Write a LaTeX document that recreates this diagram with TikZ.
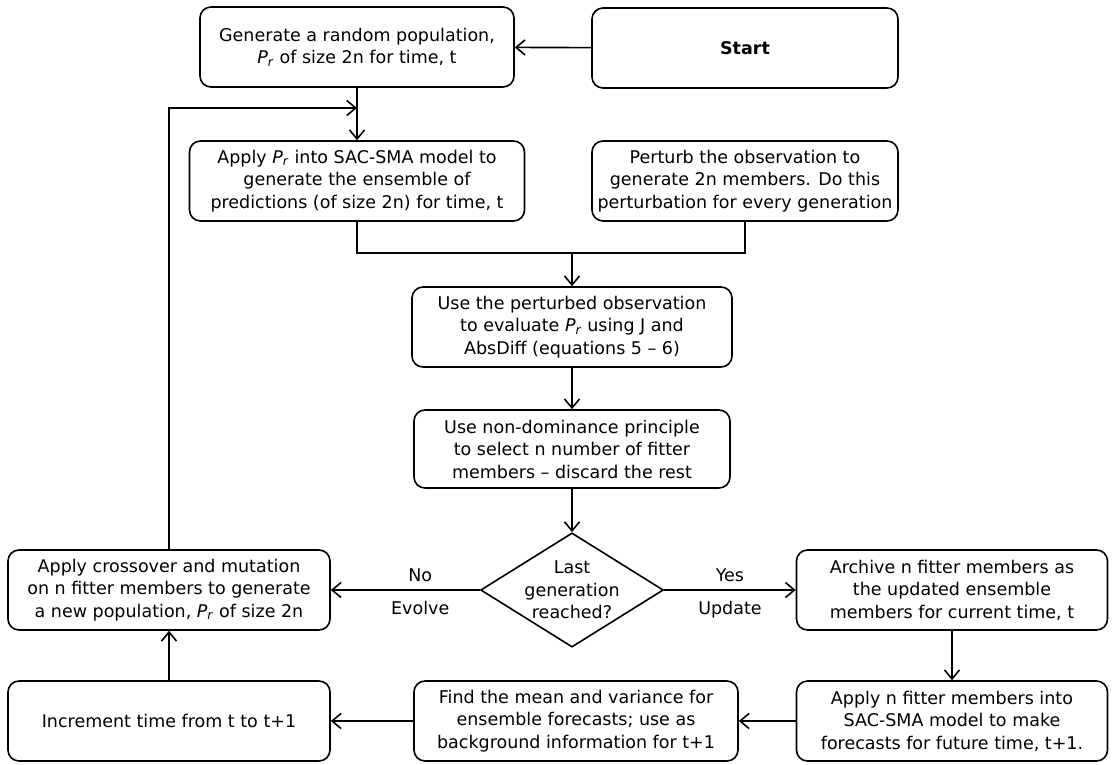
\documentclass[tikz,border=0pt]{standalone}
\usepackage{fontspec}
\setmainfont{DejaVu Sans}
\usetikzlibrary{arrows.meta,shapes.geometric}

\newcommand{\popr}{\textit{P}\textsubscript{\textit{r}}}

\begin{document}
\begin{tikzpicture}[x=1pt,y=-1pt,
    font=\fontsize{17.5}{22.5}\selectfont,
    procbox/.style={draw, rounded corners=11pt, line width=1.6pt, align=center,
      inner sep=0pt, minimum height=80pt},
    decbox/.style={draw, diamond, aspect=1.6, line width=1.6pt, align=center,
      inner sep=-1pt},
    conn/.style={line width=1.6pt},
    flow/.style={conn, -{Straight Barb[length=9pt,width=15pt,line width=1.6pt]}}]
  \useasboundingbox (0,0) rectangle (1113,764);

  % top part
  \node [procbox, minimum width=306pt, font=\fontsize{17.5}{22.5}\selectfont\bfseries]
    (start) at (745,48) {Start};
  \node [procbox, minimum width=314pt] (gen) at (357,47)
    {Generate a random population,\\ \popr{} of size 2n for time, t};
  \node [procbox, minimum width=335pt] (apply) at (357,181)
    {Apply \popr{} into SAC-SMA model to\\ generate the ensemble of\\ predictions (of size 2n) for time, t};
  \node [procbox, minimum width=306pt] (perturb) at (745,181)
    {Perturb the observation to\\ generate 2n members. Do this\\ perturbation for every generation};
  \node [procbox, minimum width=320pt] (eval) at (572,327)
    {Use the perturbed observation\\ to evaluate \popr{} using J and\\ AbsDiff (equations 5 -- 6)};
  \node [procbox, minimum width=316pt, minimum height=78pt] (select) at (572,449)
    {Use non-dominance principle\\ to select n number of fitter\\ members -- discard the rest};

  % decision
  \node [decbox] (dec) at (572,590) {Last\\ generation\\ reached?};
  \node [procbox, minimum width=322pt] (cross) at (169,590)
    {Apply crossover and mutation\\ on n fitter members to generate\\ a new population, \popr{} of size 2n};
  \node [procbox, minimum width=311pt] (archive) at (952,590)
    {Archive n fitter members as\\ the updated ensemble\\ members for current time, t};

  % bottom row
  \node [procbox, minimum width=311pt] (forecast) at (952,721)
    {Apply n fitter members into\\ SAC-SMA model to make\\ forecasts for future time, t+1.};
  \node [procbox, minimum width=324pt] (mean) at (576,721)
    {Find the mean and variance for\\ ensemble forecasts; use as\\ background information for t+1};
  \node [procbox, minimum width=322pt] (incr) at (169,721)
    {Increment time from t to t+1};

  \coordinate (loop) at (357,108);
  \coordinate (merge) at (572,253);

  \draw [flow] (start) -- (gen);
  \draw [flow] (gen) -- (apply);
  \draw [flow] (cross.north) |- (loop);
  \draw [conn] (apply.south) |- (perturb.south |- merge) -- (perturb.south);
  \draw [flow] (merge) -- (eval.north);
  \draw [flow] (eval) -- (select);
  \draw [flow] (select) -- (dec);
  \draw [flow] (dec) -- node [pos=0.4, above=4pt] {No}
    node [pos=0.4, below=7pt] {Evolve} (cross);
  \draw [flow] (dec) -- node [midway, above=4pt] {Yes}
    node [midway, below=7pt] {Update} (archive);
  \draw [flow] (archive) -- (forecast);
  \draw [flow] (forecast) -- (mean);
  \draw [flow] (mean) -- (incr);
  \draw [flow] (incr) -- (cross);
\end{tikzpicture}
\end{document}
